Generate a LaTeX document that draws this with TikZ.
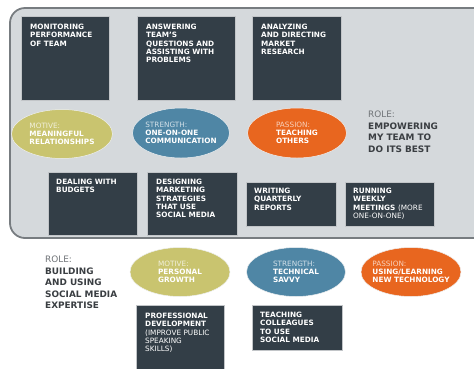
\documentclass[tikz,border=0pt]{standalone}
\usepackage{fontspec}
\setmainfont{DejaVu Sans}
\usetikzlibrary{calc,shapes.geometric}
\definecolor{panelfill}{HTML}{D5D9DC}
\definecolor{panelline}{HTML}{777C80}
\definecolor{boxfill}{HTML}{333E47}
\definecolor{olive}{HTML}{C9C46F}
\definecolor{steel}{HTML}{4F86A5}
\definecolor{orng}{HTML}{E8661F}
\definecolor{rolegray}{HTML}{6F7377}
\definecolor{roledark}{HTML}{3A3E42}
\tikzset{
  panel/.style={fill=panelfill, draw=panelline, line width=1.8pt, rounded corners=15pt},
  darkbox/.style={fill=boxfill, draw=white!70!boxfill, line width=0.6pt, anchor=north west, inner sep=0pt},
  boxtext/.style={anchor=north west, inner sep=0pt, align=left, text=white, font=\fontsize{7.3}{8.3}\selectfont\bfseries},
  oval/.style={ellipse, minimum width=100pt, minimum height=49pt, inner sep=0pt, draw=white!60!panelfill, line width=0.5pt},
  ovaltext/.style={inner sep=0pt, align=left, text=white, font=\fontsize{7.3}{8.3}\selectfont\bfseries},
  roletext/.style={anchor=north west, inner sep=0pt, align=left, text=roledark, font=\fontsize{8.9}{11.4}\selectfont\bfseries},
}
\begin{document}
\begin{tikzpicture}[x=1pt,y=-1pt]
\useasboundingbox (0,0) rectangle (474,368);
\begin{scope}
\clip (0,0) rectangle (474,368);
% panel
\draw[panel] (10,8) rectangle (490,238);
% top row boxes
\node[darkbox, minimum width=88pt, minimum height=84pt] (b1) at (21,16) {};
\node[boxtext] (t1) at ($(b1.north west)+(9,8)$) {MONITORING\\PERFORMANCE\\OF TEAM};
\node[darkbox, minimum width=98pt, minimum height=84pt] (b2) at (137,16) {};
\node[boxtext] (t2) at ($(b2.north west)+(9,8)$) {ANSWERING\\TEAM'S\\QUESTIONS AND\\ASSISTING WITH\\PROBLEMS};
\node[darkbox, minimum width=89pt, minimum height=84pt] (b3) at (252,16) {};
\node[boxtext] (t3) at ($(b3.north west)+(9,8)$) {ANALYZING\\AND DIRECTING\\MARKET\\RESEARCH};
% ellipses row 1
\node[oval, fill=olive, minimum width=101pt] (e1) at (62,134) {};
\node[ovaltext] (et1) at (e1.center) {{\mdseries\color{olive!25!white}MOTIVE:}\\MEANINGFUL\\RELATIONSHIPS};
\node[oval, fill=steel, minimum width=97pt, minimum height=50pt] (e2) at (181,133) {};
\node[ovaltext] (et2) at (e2.center) {{\mdseries\color{steel!25!white}STRENGTH:}\\ONE-ON-ONE\\COMMUNICATION};
\node[oval, fill=orng, minimum width=99pt, minimum height=50pt] (e3) at (297,133) {};
\node[ovaltext] (et3) at (e3.center) {{\mdseries\color{orng!30!white}PASSION:}\\TEACHING\\OTHERS};
\node[roletext] (r1) at (368,111) {{\mdseries\color{rolegray}ROLE:}\\EMPOWERING\\MY TEAM TO\\DO ITS BEST};
% second row boxes
\node[darkbox, minimum width=89pt, minimum height=63pt] (b4) at (48,172) {};
\node[boxtext] (t4) at ($(b4.north west)+(8,7)$) {DEALING WITH\\BUDGETS};
\node[darkbox, minimum width=90pt, minimum height=63pt] (b5) at (147,172) {};
\node[boxtext] (t5) at ($(b5.north west)+(9,7)$) {DESIGNING\\MARKETING\\STRATEGIES\\THAT USE\\SOCIAL MEDIA};
\node[darkbox, minimum width=90pt, minimum height=44pt] (b6) at (246,182) {};
\node[boxtext] (t6) at ($(b6.north west)+(8,6)$) {WRITING\\QUARTERLY\\REPORTS};
\node[darkbox, minimum width=89pt, minimum height=44pt] (b7) at (345,182) {};
\node[boxtext] (t7) at ($(b7.north west)+(8,6)$) {RUNNING\\WEEKLY\\MEETINGS {\mdseries(MORE}\\{\mdseries ONE-ON-ONE)}};
\end{scope}
% below panel
\node[roletext] (r2) at (45,256) {{\mdseries\color{rolegray}ROLE:}\\BUILDING\\AND USING\\SOCIAL MEDIA\\EXPERTISE};
\node[oval, fill=olive] (e4) at (180,272) {};
\node[ovaltext] (et4) at (e4.center) {{\mdseries\color{olive!25!white}MOTIVE:}\\PERSONAL\\GROWTH};
\node[oval, fill=steel, minimum width=99pt] (e5) at (296,272) {};
\node[ovaltext] (et5) at (e5.center) {{\mdseries\color{steel!25!white}STRENGTH:}\\TECHNICAL\\SAVVY};
\node[oval, fill=orng] (e6) at (411,272) {};
\node[ovaltext] (et6) at (e6.center) {{\mdseries\color{orng!30!white}PASSION:}\\USING/LEARNING\\NEW TECHNOLOGY};
\begin{scope}
\clip (0,0) rectangle (474,368);
\node[darkbox, minimum width=88pt, minimum height=70pt] (b8) at (136,305) {};
\node[boxtext] (t8) at ($(b8.north west)+(9,8)$) {PROFESSIONAL\\DEVELOPMENT\\{\mdseries(IMPROVE PUBLIC}\\{\mdseries SPEAKING}\\{\mdseries SKILLS)}};
\end{scope}
\node[darkbox, minimum width=90pt, minimum height=45pt] (b9) at (252,305) {};
\node[boxtext] (t9) at ($(b9.north west)+(8,7)$) {TEACHING\\COLLEAGUES\\TO USE\\SOCIAL MEDIA};
\end{tikzpicture}
\end{document}
